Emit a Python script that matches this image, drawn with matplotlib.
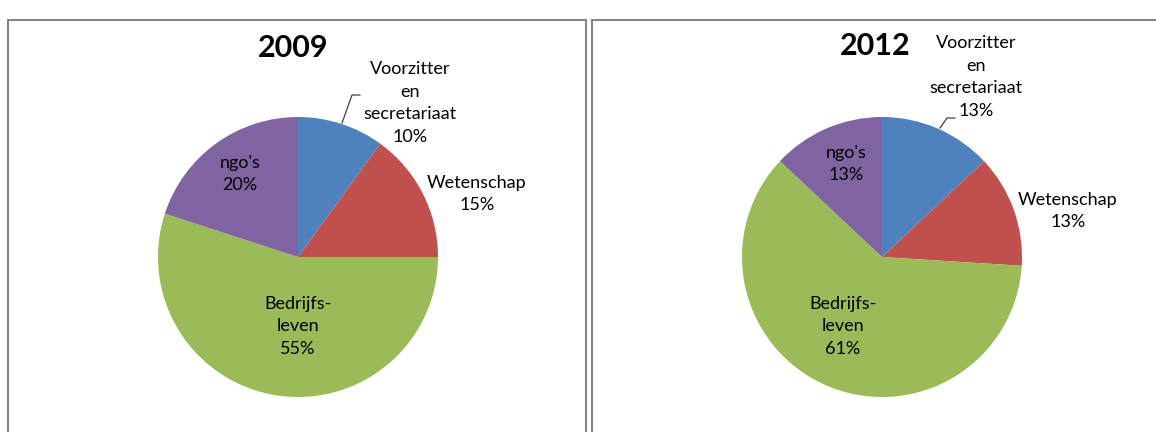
import matplotlib.pyplot as plt
from matplotlib.patches import Rectangle

plt.rcParams['font.family'] = ['Lato', 'DejaVu Sans']

W, H = 1156, 432

categories = ["Voorzitter\nen\nsecretariaat", "Wetenschap", "Bedrijfs-\nleven", "ngo's"]
values_2009 = [10, 15, 55, 20]
values_2012 = [13, 13, 61, 13]
colors = ['#4F81BD', '#C0504D', '#9BBB59', '#8064A2']


def px_axes(fig, cx, cy, r):
    # axes placed from pixel centre/radius of the pie
    return fig.add_axes([(cx - r) / W, (H - cy - r) / H, 2 * r / W, 2 * r / H])


def to_data(px, py, cx, cy, r):
    return (px - cx) / r, (cy - py) / r


def draw_pie(fig, values, year, cx, cy, r, label_pos, title_pos, leader):
    ax = px_axes(fig, cx, cy, r)
    ax.pie(values, colors=colors, startangle=90, counterclock=False, radius=1,
           wedgeprops=dict(linewidth=0))
    ax.set_xlim(-1, 1)
    ax.set_ylim(-1, 1)
    ax.set_aspect('equal')
    ax.axis('off')

    for name, val, (px, py) in zip(categories, values, label_pos):
        x, y = to_data(px, py, cx, cy, r)
        ax.text(x, y, f"{name}\n{val}%", ha='center', va='center', fontsize=13,
                color='black', linespacing=1.5, clip_on=False)

    tx, ty = to_data(*title_pos, cx, cy, r)
    ax.text(tx, ty, str(year), ha='center', va='center', fontsize=22,
            fontweight='bold', clip_on=False)

    lx = [to_data(p[0], p[1], cx, cy, r)[0] for p in leader]
    ly = [to_data(p[0], p[1], cx, cy, r)[1] for p in leader]
    ax.plot(lx, ly, color='#404040', linewidth=0.9, clip_on=False)


fig = plt.figure(figsize=(W / 100, H / 100), dpi=100)

# panel borders
for x0, x1 in [(8, 586), (592, 1160)]:
    fig.patches.append(Rectangle((x0 / W, -0.1), (x1 - x0) / W, (H - 20) / H + 0.1,
                                 transform=fig.transFigure, fill=False,
                                 edgecolor='#868686', linewidth=1.5))

draw_pie(fig, values_2009, 2009, 298, 257, 140,
         [(410, 103), (477, 194), (298, 326), (240, 174)],
         (293, 48), [(342, 123), (352, 95), (360, 95)])

draw_pie(fig, values_2012, 2012, 882, 257, 140,
         [(976, 77), (1068, 211), (843, 326), (846, 164)],
         (875, 46), [(940, 128), (947, 118), (955, 118)])

fig.savefig('out.png', dpi=100)
